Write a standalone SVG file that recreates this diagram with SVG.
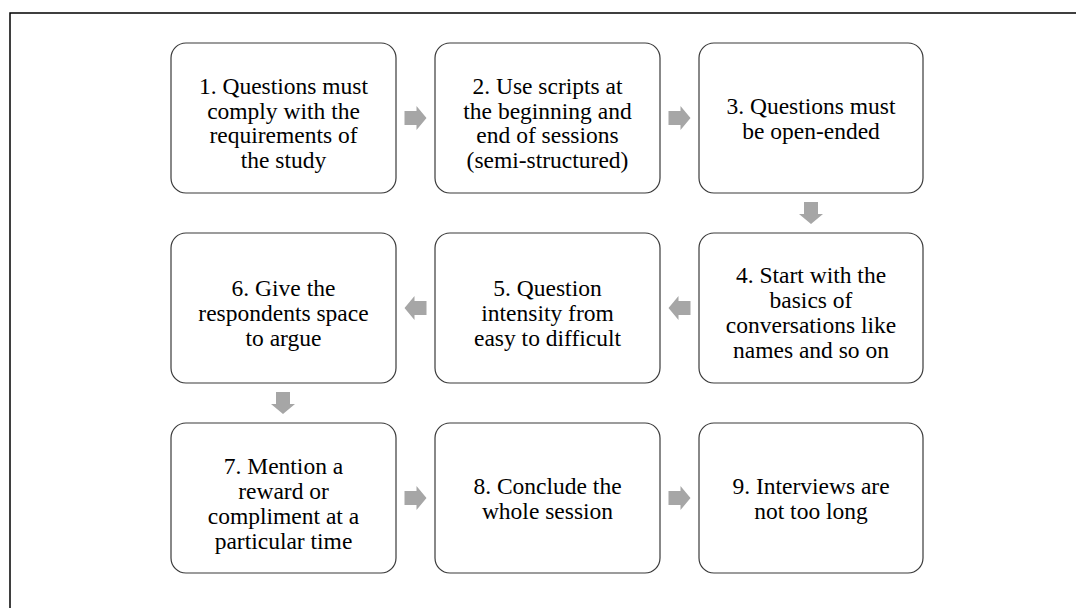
<svg xmlns="http://www.w3.org/2000/svg" width="1076" height="608" viewBox="0 0 1076 608">
  <style>
    .frame { fill: none; stroke: #000; stroke-width: 1.5; }
    .box { fill: #fff; stroke: #3a3a3a; stroke-width: 1.2; }
    text { font-family: "Liberation Serif", "Times New Roman", "DejaVu Serif", serif; font-size: 23.5px; fill: #000; text-anchor: middle; }
    .arrow { fill: #a6a6a6; }
  </style>
  <defs>
    <!-- block arrow pointing right, origin at its center -->
    <path id="arr" d="M -11 -7 L 1 -7 L 1 -12 L 11 0 L 1 12 L 1 7 L -11 7 Z"/>
  </defs>

  <rect width="1076" height="608" fill="#fff"/>
  <rect class="frame" x="10" y="13" width="1100" height="700"/>

  <g id="connectors" class="arrow">
    <use href="#arr" transform="translate(415.5,118)"/>
    <use href="#arr" transform="translate(679.5,118)"/>
    <use href="#arr" transform="translate(811,213) rotate(90)"/>
    <use href="#arr" transform="translate(679.5,308) rotate(180)"/>
    <use href="#arr" transform="translate(415.5,308) rotate(180)"/>
    <use href="#arr" transform="translate(283,403) rotate(90)"/>
    <use href="#arr" transform="translate(415.5,498)"/>
    <use href="#arr" transform="translate(679.5,498)"/>
  </g>

  <g id="n1">
    <rect class="box" x="171" y="43" width="225" height="150" rx="15"/>
    <text x="283.5" y="94">1. Questions must</text>
    <text x="283.5" y="118.5">comply with the</text>
    <text x="283.5" y="143">requirements of</text>
    <text x="283.5" y="167.5">the study</text>
  </g>
  <g id="n2">
    <rect class="box" x="435" y="43" width="225" height="150" rx="15"/>
    <text x="547.5" y="94">2. Use scripts at</text>
    <text x="547.5" y="118.5">the beginning and</text>
    <text x="547.5" y="143">end of sessions</text>
    <text x="547.5" y="167.5">(semi-structured)</text>
  </g>
  <g id="n3">
    <rect class="box" x="699" y="43" width="224" height="150" rx="15"/>
    <text x="811" y="114">3. Questions must</text>
    <text x="811" y="139">be open-ended</text>
  </g>
  <g id="n4">
    <rect class="box" x="699" y="233" width="224" height="150" rx="15"/>
    <text x="811" y="283">4. Start with the</text>
    <text x="811" y="308">basics of</text>
    <text x="811" y="333">conversations like</text>
    <text x="811" y="358">names and so on</text>
  </g>
  <g id="n5">
    <rect class="box" x="435" y="233" width="225" height="150" rx="15"/>
    <text x="547.5" y="295.5">5. Question</text>
    <text x="547.5" y="320.5">intensity from</text>
    <text x="547.5" y="345.5">easy to difficult</text>
  </g>
  <g id="n6">
    <rect class="box" x="171" y="233" width="225" height="150" rx="15"/>
    <text x="283.5" y="295.5">6. Give the</text>
    <text x="283.5" y="320.5">respondents space</text>
    <text x="283.5" y="345.5">to argue</text>
  </g>
  <g id="n7">
    <rect class="box" x="171" y="423" width="225" height="150" rx="15"/>
    <text x="283.5" y="474">7. Mention a</text>
    <text x="283.5" y="499">reward or</text>
    <text x="283.5" y="524">compliment at a</text>
    <text x="283.5" y="549">particular time</text>
  </g>
  <g id="n8">
    <rect class="box" x="435" y="423" width="225" height="150" rx="15"/>
    <text x="547.5" y="493.5">8. Conclude the</text>
    <text x="547.5" y="519">whole session</text>
  </g>
  <g id="n9">
    <rect class="box" x="699" y="423" width="224" height="150" rx="15"/>
    <text x="811" y="493.5">9. Interviews are</text>
    <text x="811" y="519">not too long</text>
  </g>
</svg>
